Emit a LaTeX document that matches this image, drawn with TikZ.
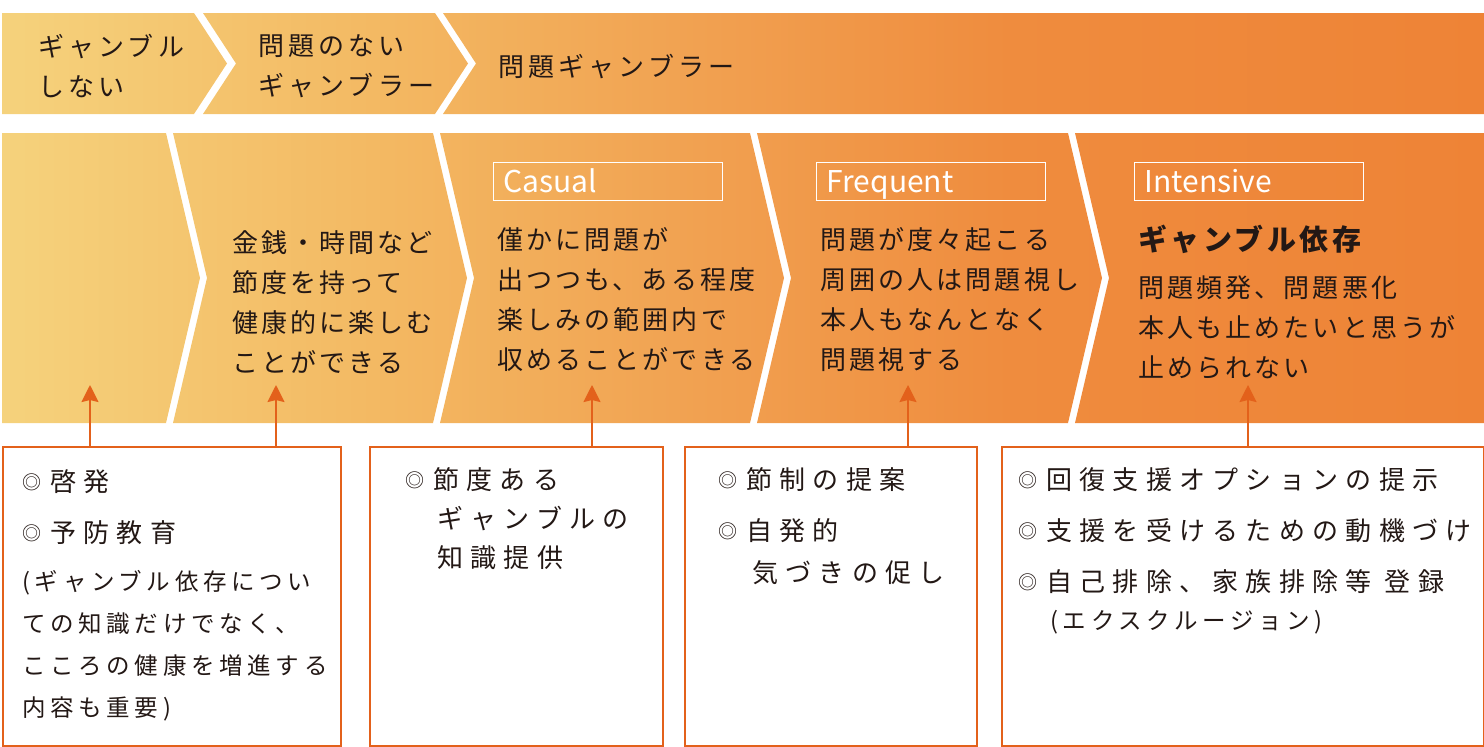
\documentclass[tikz,border=0pt]{standalone}
\usepackage{fontspec}
\setmainfont{Noto Sans CJK JP}
\newfontfamily\jpfont{Noto Sans CJK JP}
\newfontfamily\jpwide[LetterSpace=12]{Noto Sans CJK JP}
\newfontfamily\jptop[LetterSpace=16]{Noto Sans CJK JP}
\newfontfamily\jpbox[LetterSpace=28]{Noto Sans CJK JP}
\newfontfamily\jpnote[LetterSpace=20]{Noto Sans CJK JP}
\usetikzlibrary{arrows.meta, positioning, calc}
\definecolor{gband0}{HTML}{F5D27C}
\definecolor{gband1}{HTML}{F3B862}
\definecolor{gband2}{HTML}{F1A050}
\definecolor{gband3}{HTML}{EF8C3E}
\definecolor{gband4}{HTML}{EE8336}
\definecolor{corange}{HTML}{E3611B}
\definecolor{ctext}{HTML}{231815}
\pgfdeclarehorizontalshading{stageband}{100bp}{color(0bp)=(gband0); color(25bp)=(gband0); color(38bp)=(gband1); color(49bp)=(gband2); color(59bp)=(gband3); color(75bp)=(gband4); color(100bp)=(gband4)}
\newcommand{\dmark}{\raisebox{2pt}{\jpfont\fontsize{19}{19}\selectfont ◎}\hspace{9pt}}
\tikzset{
  stagetext/.style={font=\jpwide\fontsize{26}{40}\selectfont, text=ctext, align=left, inner sep=0pt, anchor=west},
  toptext/.style={stagetext, font=\jptop\fontsize{26}{40}\selectfont},
  tagbox/.style={draw=white, line width=1.3pt, text=white, font=\jpfont\fontsize{30}{30}\selectfont, minimum height=38pt, text width=209pt, inner xsep=10pt, inner ysep=0pt, text height=25pt, text depth=3pt, align=left, anchor=north west},
  measure/.style={draw=corange, line width=2pt, fill=white, anchor=north west, inner sep=0pt},
  boxtext/.style={font=\jpbox\fontsize{26}{51}\selectfont, text=ctext, align=left, inner sep=0pt, anchor=west},
  notetext/.style={font=\jpnote\fontsize{23.5}{42}\selectfont, text=ctext, align=left, inner sep=0pt, anchor=west},
  arrow/.style={-{Stealth[length=17pt, width=17pt, inset=2pt]}, draw=corange, fill=corange, line width=2pt},
}

\begin{document}
\begin{tikzpicture}[x=1pt, y=-1pt]
  \useasboundingbox (0,0) rectangle (1484,747);
  % ---------- chevron bands
  \begin{scope}
  \clip (2,13) -- (194,13) -- (227,63.5) -- (194,114) -- (2,114) -- cycle
        (203,13) -- (435,13) -- (468,63.5) -- (435,114) -- (203,114) -- (236,63.5) -- cycle
        (443,13) -- (1484,13) -- (1484,114) -- (443,114) -- (476,63.5) -- cycle
        (2,133) -- (166,133) -- (200,278) -- (166,423) -- (2,423) -- cycle
        (173,133) -- (433,133) -- (467,278) -- (433,423) -- (173,423) -- (207,278) -- cycle
        (440,133) -- (750,133) -- (784,278) -- (750,423) -- (440,423) -- (474,278) -- cycle
        (757,133) -- (1068,133) -- (1102,278) -- (1068,423) -- (757,423) -- (791,278) -- cycle
        (1075,133) -- (1484,133) -- (1484,423) -- (1075,423) -- (1109,278) -- cycle;
  \shade[shading=stageband] (2,13) rectangle (1484,423);
  \end{scope}
  % ---------- top row
  \node[toptext] (nogamble) at (38,66) {ギャンブル\\しない};
  \node[toptext] (okgambler) at (258,66) {問題のない\\ギャンブラー};
  \node[toptext] (probgambler) at (498,67) {問題ギャンブラー};
  % ---------- stages
  \node[stagetext] (moderate) at (232,302) {金銭・時間など\\節度を持って\\健康的に楽しむ\\ことができる};
  \node[tagbox] (casual) at (493,162) {Casual};
  \node[stagetext] (casualtext) at (497,300) {僅かに問題が\\出つつも、ある程度\\楽しみの範囲内で\\収めることができる};
  \node[tagbox] (frequent) at (816,162) {Frequent};
  \node[stagetext] (frequenttext) at (820,300) {問題が度々起こる\\周囲の人は問題視し\\本人もなんとなく\\問題視する};
  \node[tagbox] (intensive) at (1134,162) {Intensive};
  \node[stagetext, font=\jpwide\bfseries\fontsize{29}{40}\selectfont] (addiction) at (1138,239) {ギャンブル依存};
  \node[stagetext] (intensivetext) at (1138,327) {問題頻発、問題悪化\\本人も止めたいと思うが\\止められない};
  % ---------- measures
  \node[measure, minimum width=338pt, minimum height=299pt] (prevent) at (2,446) {};
  \node[measure, minimum width=293pt, minimum height=299pt] (inform) at (369,446) {};
  \node[measure, minimum width=292pt, minimum height=299pt] (suggest) at (684,446) {};
  \node[measure, minimum width=482pt, minimum height=299pt] (support) at (1001,446) {};
  \node[boxtext] (preventitems) at (22,507) {\dmark 啓発\\\dmark 予防教育};
  \node[notetext] (preventnote) at (22,646) {(ギャンブル依存につい\\ての知識だけでなく、\\こころの健康を増進する\\内容も重要)};
  \node[boxtext, font=\jpbox\fontsize{26}{39}\selectfont] (informitems) at (405,519) {\dmark 節度ある\\\hspace*{32pt}ギャンブルの\\\hspace*{32pt}知識提供};
  \node[boxtext] (suggestitem) at (718,480) {\dmark 節制の提案};
  \node[boxtext, font=\jpbox\fontsize{26}{42}\selectfont] (suggestitemb) at (718,552) {\dmark 自発的\\\hspace*{34pt}気づきの促し};
  \node[boxtext] (supportitems) at (1018,531) {\dmark 回復支援オプションの提示\\\dmark 支援を受けるための動機づけ\\\dmark 自己排除、家族排除等 登録};
  \node[notetext] (supportnote) at (1050,622) {(エクスクルージョン)};
  % ---------- arrows
  \coordinate (tA) at (90,385);
  \coordinate (tB) at (276,385);
  \coordinate (tC) at (592,385);
  \coordinate (tD) at (908,385);
  \coordinate (tE) at (1248,385);
  \draw[arrow] (tA |- prevent.north) -- (tA);
  \draw[arrow] (tB |- prevent.north) -- (tB);
  \draw[arrow] (tC |- inform.north) -- (tC);
  \draw[arrow] (tD |- suggest.north) -- (tD);
  \draw[arrow] (tE |- support.north) -- (tE);
\end{tikzpicture}
\end{document}
